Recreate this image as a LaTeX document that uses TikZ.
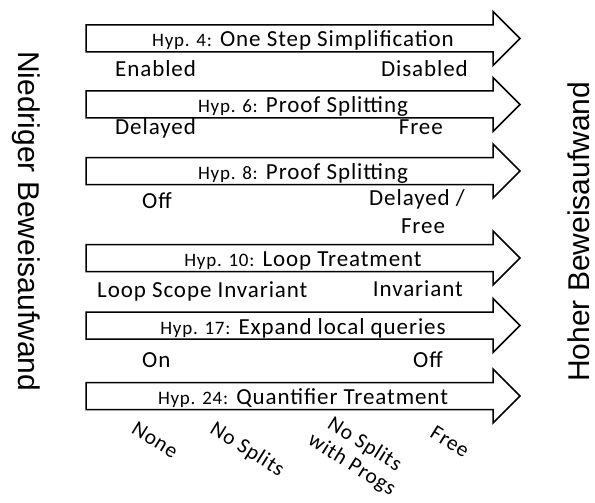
\documentclass[tikz,border=0pt]{standalone}
\usepackage{fontspec}
\setmainfont{Carlito}[LetterSpace=4]
\newfontfamily\sidefont{Liberation Sans}
\begin{document}
\begin{tikzpicture}[x=1pt,y=-1pt,
  arrowshape/.style={draw=black,line width=1.5pt,line join=miter,fill=white},
  title/.style={inner sep=0pt,font=\fontsize{23}{26}\selectfont,anchor=base},
  lbl/.style={inner sep=0pt,font=\fontsize{23}{26}\selectfont},
  axis/.style={inner sep=0pt,font=\fontsize{21.5}{24}\selectfont,align=center,rotate=-32},
  side/.style={inner sep=0pt,font=\sidefont\fontsize{30}{32}\selectfont}]
\newcommand\hyp[1]{{\fontsize{19}{20}\selectfont Hyp. #1:} }
% block arrow: name, vertical centre
\newcommand\hyparrow[2]{%
  \draw[arrowshape] (86,#2-13.5) -- (493,#2-13.5) -- (493,#2-27) -- (520,#2)
    -- (493,#2+27) -- (493,#2+13.5) -- (86,#2+13.5) -- cycle;
  \coordinate (#1) at (303,#2+8.5);}
\useasboundingbox (0,0) rectangle (595,503);

\hyparrow{a1}{38.5}
\hyparrow{a2}{104.5}
\hyparrow{a3}{171}
\hyparrow{a4}{258}
\hyparrow{a5}{325.5}
\hyparrow{a6}{396}

% arrow titles
\node[title] (t1) at (a1) {\hyp{4}One Step Simplification};
\node[title] (t2) at (a2) {\hyp{6}Proof Splitting};
\node[title] (t3) at (a3) {\hyp{8}Proof Splitting};
\node[title] (t4) at (a4) {\hyp{10}Loop Treatment};
\node[title] (t5) at (a5) {\hyp{17}Expand local queries};
\node[title] (t6) at (a6) {\hyp{24}Quantifier Treatment};

% option values below each arrow
\node[lbl,anchor=base west] (l1a) at (115,77) {Enabled};
\node[lbl,anchor=base east] (l1b) at (468,77) {Disabled};
\node[lbl,anchor=base west] (l2a) at (115,135) {Delayed};
\node[lbl,anchor=base east] (l2b) at (443,135) {Free};
\node[lbl,anchor=base west] (l3a) at (142,208) {Off};
\node[lbl,anchor=base east] (l3b) at (465,205) {Delayed /};
\node[lbl,anchor=base] (l3c) at (423,233) {Free};
\node[lbl,anchor=base west] (l4a) at (97,297) {Loop Scope Invariant};
\node[lbl,anchor=base east] (l4b) at (463,296) {Invariant};
\node[lbl,anchor=base west] (l5a) at (142,367) {On};
\node[lbl,anchor=base east] (l5b) at (443,367) {Off};

% quantifier treatment levels
\node[axis] (q1) at (155,440) {None};
\node[axis] (q2) at (247,450) {No Splits};
\node[axis] (q3) at (358,455) {No Splits\\with Progs};
\node[axis] (q4) at (450,442) {Free};

% effort axis
\node[side,rotate=-90,anchor=base west] (lo) at (18,51) {Niedriger Beweisaufwand};
\node[side,rotate=90,anchor=base west] (hi) at (589,382) {Hoher Beweisaufwand};
\end{tikzpicture}
\end{document}
